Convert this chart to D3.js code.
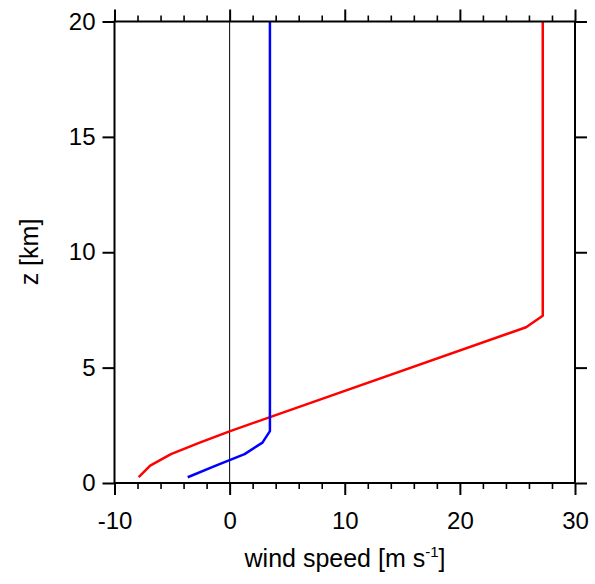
<!DOCTYPE html>
<html><head><meta charset="utf-8">
<script src="https://cdn.jsdelivr.net/npm/d3@7"></script>
<style>body{margin:0;background:#fff}text{font-family:"Liberation Sans",Arial,Helvetica,sans-serif;fill:#000}</style>
</head><body><svg id="c" width="595" height="584"></svg>
<script>
const redZ = [0.25, 0.75, 1.25, 1.75, 2.25, 6.75, 7.25, 20];
const redU = [-7.9, -6.9, -5.1, -2.6, 0.05, 25.75, 27.2, 27.2];
const blueZ = [0.25, 0.75, 1.25, 1.75, 2.25, 20];
const blueU = [-3.64, -1.2, 1.3, 2.85, 3.5, 3.5];
const xMajor = [-10, 0, 10, 20, 30];
const xMinor = [-8, -6, -4, -2, 2, 4, 6, 8, 12, 14, 16, 18, 22, 24, 26, 28];
const yMajor = [0, 5, 10, 15, 20];

const L = 114.5, R = 575, T = 21.5, B = 483;
const svg = d3.select("#c");
const x = d3.scaleLinear().domain([-10, 30]).range([L, R]);
const y = d3.scaleLinear().domain([0, 20]).range([B, T]);

svg.append("line").attr("x1", x(0)).attr("x2", x(0)).attr("y1", T).attr("y2", B)
  .attr("stroke", "#000").attr("stroke-width", 1);

const line = d3.line().x(d => x(d[0])).y(d => y(d[1]));
svg.append("path").datum(redU.map((u, i) => [u, redZ[i]])).attr("d", line)
  .attr("fill", "none").attr("stroke", "#ff0000").attr("stroke-width", 2.5).attr("stroke-linejoin", "round");
svg.append("path").datum(blueU.map((u, i) => [u, blueZ[i]])).attr("d", line)
  .attr("fill", "none").attr("stroke", "#0000ff").attr("stroke-width", 2.5).attr("stroke-linejoin", "round");

svg.append("rect").attr("x", L).attr("y", T).attr("width", R - L).attr("height", B - T)
  .attr("fill", "none").attr("stroke", "#000").attr("stroke-width", 2);

const FS = "24px";
function styleAxis(g) {
  g.select(".domain").remove();
  g.selectAll(".tick line").attr("stroke", "#000").attr("stroke-width", 2);
  g.selectAll("text").style("font-size", FS).attr("fill", "#000");
}
function styleMinor(g) {
  g.select(".domain").remove();
  g.selectAll(".tick line").attr("stroke", "#000").attr("stroke-width", 1.6);
}
const gb = svg.append("g").attr("transform", `translate(0,${B})`)
  .call(d3.axisBottom(x).tickValues(xMajor).tickSize(12).tickPadding(17).tickFormat(d3.format("d")));
styleAxis(gb);
gb.selectAll("text").text(d => d < 0 ? "-" + Math.abs(d) : d);
svg.append("g").attr("transform", `translate(0,${B})`)
  .call(d3.axisBottom(x).tickValues(xMinor).tickSize(6).tickFormat("")).call(styleMinor);
svg.append("g").attr("transform", `translate(0,${T})`)
  .call(d3.axisTop(x).tickValues(xMajor).tickSize(12).tickFormat("")).call(styleAxis);
svg.append("g").attr("transform", `translate(0,${T})`)
  .call(d3.axisTop(x).tickValues(xMinor).tickSize(6).tickFormat("")).call(styleMinor);
const gl = svg.append("g").attr("transform", `translate(${L},0)`)
  .call(d3.axisLeft(y).tickValues(yMajor).tickSize(12).tickPadding(7));
styleAxis(gl);
svg.append("g").attr("transform", `translate(${R},0)`)
  .call(d3.axisRight(y).tickValues(yMajor).tickSize(12).tickFormat("")).call(styleAxis);

const xt = svg.append("text").attr("x", 345).attr("y", 567).attr("text-anchor", "middle").style("font-size", "25px");
xt.append("tspan").text("wind speed [m s");
xt.append("tspan").text("-1").attr("dy", -10).style("font-size", "15px");
xt.append("tspan").text("]").attr("dy", 10);
svg.append("text").attr("transform", "translate(38,252) rotate(-90)").attr("text-anchor", "middle")
  .style("font-size", "25px").text("z [km]");
</script></body></html>
